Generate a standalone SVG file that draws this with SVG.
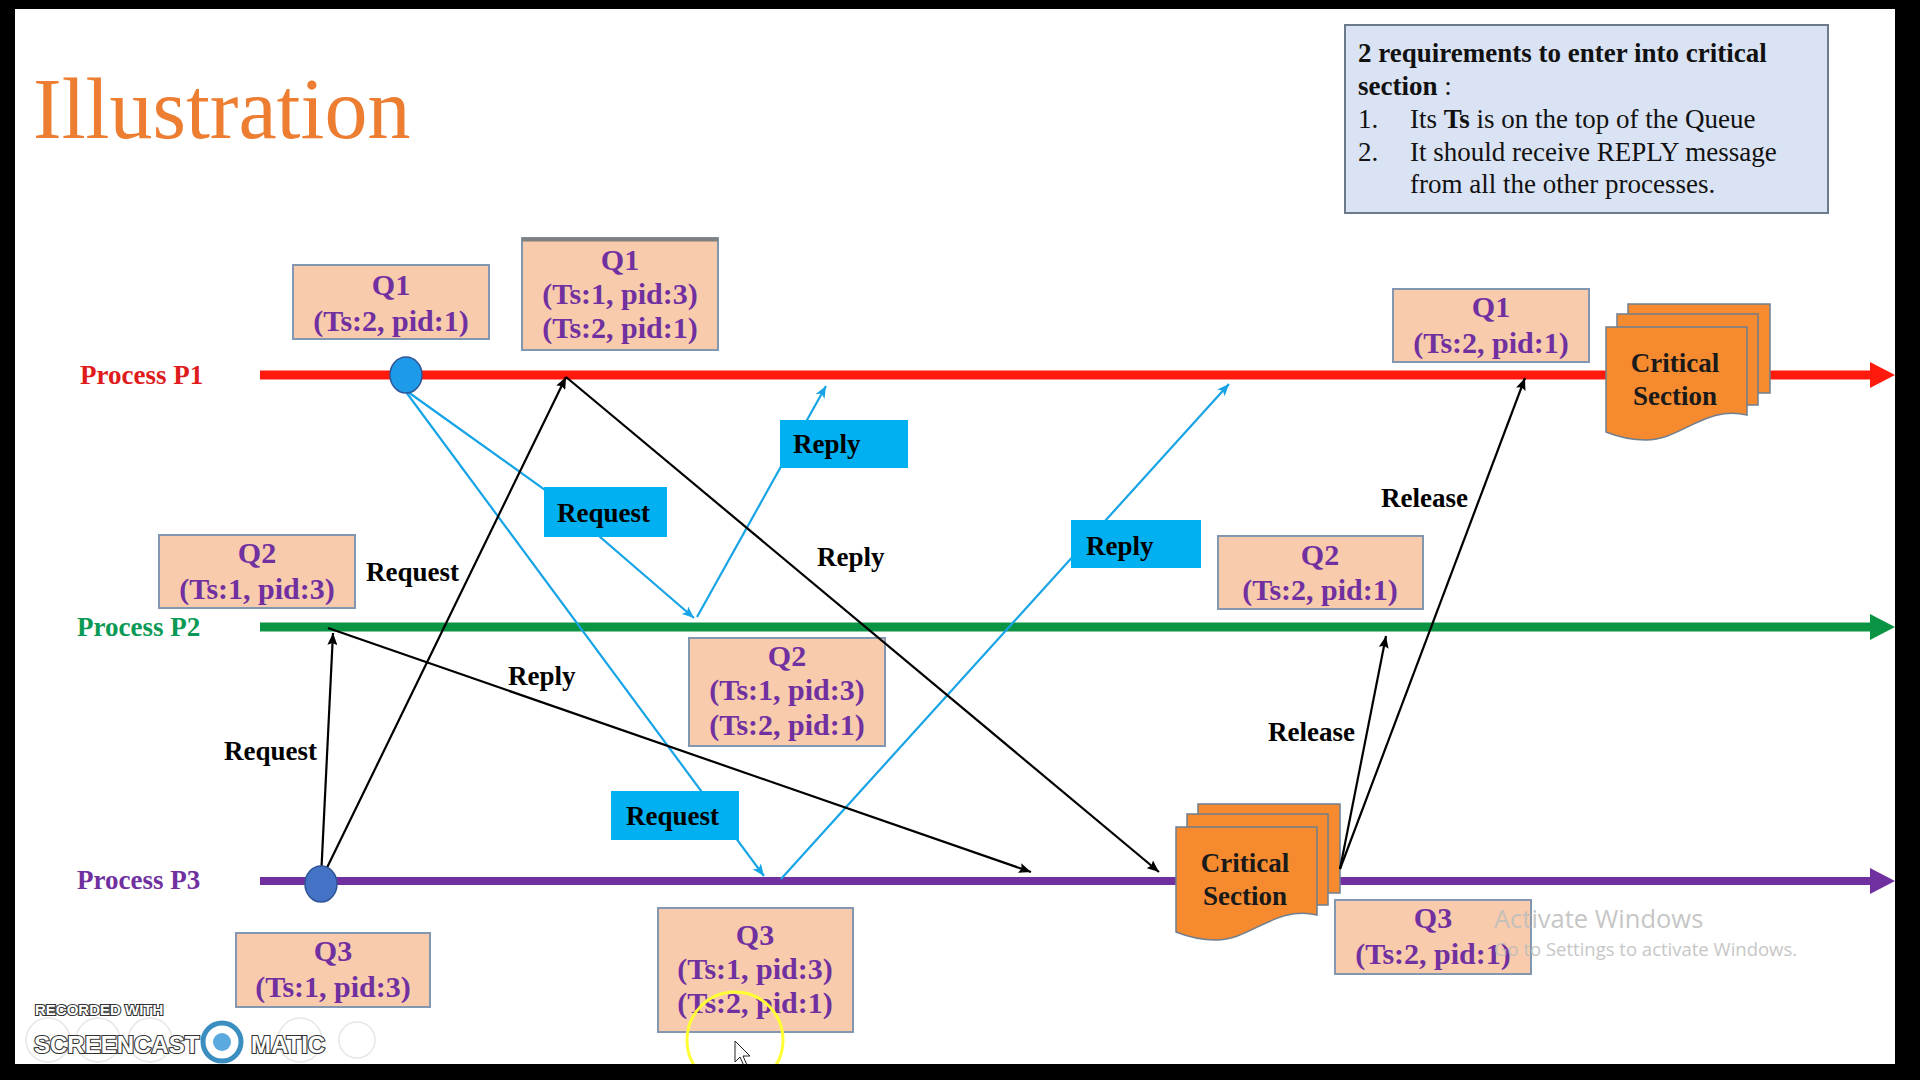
<svg xmlns="http://www.w3.org/2000/svg" width="1920" height="1080" viewBox="0 0 1920 1080">
<style>
.q{fill:#F8CBAD;stroke:#8497B0;stroke-width:2}
.qt{font-family:"Liberation Serif","Times New Roman",serif;font-weight:bold;font-size:30px;fill:#7030A0;text-anchor:middle}
.bx{fill:#00B0F0}
.lbl{font-family:"Liberation Serif","Times New Roman",serif;font-weight:bold;font-size:27px;fill:#000}
.blk{stroke:#000;stroke-width:2.2;fill:none;marker-end:url(#ab)}
.blu{stroke:#16A4E6;stroke-width:2.2;fill:none;marker-end:url(#au)}
.pg{fill:#F58A2F;stroke:#6F7F90;stroke-width:1.5}
.cs{font-family:"Liberation Serif","Times New Roman",serif;font-weight:bold;font-size:27px;fill:#1a1a1a;text-anchor:middle}
.req{font-family:"Liberation Serif","Times New Roman",serif;font-size:27px;fill:#111}
.pl{font-family:"Liberation Serif","Times New Roman",serif;font-weight:bold;font-size:27px}
.wm{font-family:"Open Sans","Noto Sans",sans-serif;fill:#BDBDBD;opacity:0.85}
.sc{font-family:"Liberation Sans",Arial,sans-serif;font-weight:bold;fill:#fff;stroke:#333;stroke-width:2.2;paint-order:stroke}
</style>
<defs>
<marker id="ab" viewBox="0 0 12 10" refX="12" refY="5" markerWidth="12" markerHeight="10" markerUnits="userSpaceOnUse" orient="auto"><path d="M0,0 L12,5 L0,10 L2,5 z" fill="#000"/></marker>
<marker id="au" viewBox="0 0 12 10" refX="12" refY="5" markerWidth="12" markerHeight="10" markerUnits="userSpaceOnUse" orient="auto"><path d="M0,0 L12,5 L0,10 L3,5 z" fill="#16A4E6"/></marker>
<symbol id="mdoc" overflow="visible">
<rect class="pg" x="22" y="-23" width="142" height="89"/>
<rect class="pg" x="11" y="-13" width="141" height="91"/>
<path class="pg" d="M0,0 H141 V88 C100,78 75,113 40,113 C22,113 10,109 0,105 Z"/>
</symbol>
</defs>
<rect x="0" y="0" width="1920" height="1080" fill="#000"/>
<rect x="15" y="9" width="1880" height="1055" fill="#fff"/>

<text x="33" y="138" font-family="Liberation Serif,'Times New Roman',serif" font-size="86" fill="#ED7D31">Illustration</text>

<g id="requirements">
<rect x="1345" y="25" width="483" height="188" fill="#DAE3F3" stroke="#6B7B8C" stroke-width="2"/>
<text class="req" x="1358" y="62" font-weight="bold">2 requirements to enter into critical</text>
<text class="req" x="1358" y="95"><tspan font-weight="bold">section</tspan> :</text>
<text class="req" x="1358" y="128">1.</text>
<text class="req" x="1410" y="128">Its <tspan font-weight="bold">Ts</tspan> is on the top of the Queue</text>
<text class="req" x="1358" y="161">2.</text>
<text class="req" x="1410" y="161">It should receive REPLY message</text>
<text class="req" x="1410" y="193">from all the other processes.</text>
</g>

<g id="lanes">
<g id="lane-p1">
<text class="pl" x="80" y="384" fill="#E01B1B">Process P1</text>
<line x1="260" y1="375" x2="1872" y2="375" stroke="#FF1A0D" stroke-width="9"/>
<polygon points="1870,362 1895,375 1870,388" fill="#FF1A0D"/>
</g>
<g id="lane-p2">
<text class="pl" x="77" y="636" fill="#0B9A55">Process P2</text>
<line x1="260" y1="627" x2="1872" y2="627" stroke="#0B9444" stroke-width="9"/>
<polygon points="1870,614 1895,627 1870,640" fill="#0B9444"/>
</g>
<g id="lane-p3">
<text class="pl" x="77" y="889" fill="#7030A0">Process P3</text>
<line x1="260" y1="881" x2="1872" y2="881" stroke="#7030A0" stroke-width="8"/>
<polygon points="1870,868 1895,881 1870,894" fill="#7030A0"/>
</g>
</g>

<g id="q1-a"><rect class="q" x="293" y="265" width="196" height="74"/><text class="qt" x="391" y="295">Q1</text><text class="qt" x="391" y="331">(Ts:2, pid:1)</text></g>
<g id="q1-b"><rect class="q" x="522" y="238" width="196" height="112"/><line x1="522" y1="239.5" x2="718" y2="239.5" stroke="#7F7F7F" stroke-width="4"/><text class="qt" x="620" y="270">Q1</text><text class="qt" x="620" y="304">(Ts:1, pid:3)</text><text class="qt" x="620" y="338">(Ts:2, pid:1)</text></g>
<g id="q1-c"><rect class="q" x="1393" y="289" width="196" height="73"/><text class="qt" x="1491" y="317">Q1</text><text class="qt" x="1491" y="353">(Ts:2, pid:1)</text></g>
<g id="q2-a"><rect class="q" x="159" y="535" width="196" height="73"/><text class="qt" x="257" y="563">Q2</text><text class="qt" x="257" y="599">(Ts:1, pid:3)</text></g>
<g id="q2-b"><rect class="q" x="689" y="638" width="196" height="108"/><text class="qt" x="787" y="666">Q2</text><text class="qt" x="787" y="700">(Ts:1, pid:3)</text><text class="qt" x="787" y="735">(Ts:2, pid:1)</text></g>
<g id="q2-c"><rect class="q" x="1218" y="536" width="205" height="73"/><text class="qt" x="1320" y="565">Q2</text><text class="qt" x="1320" y="600">(Ts:2, pid:1)</text></g>
<g id="q3-a"><rect class="q" x="236" y="933" width="194" height="74"/><text class="qt" x="333" y="961">Q3</text><text class="qt" x="333" y="997">(Ts:1, pid:3)</text></g>
<g id="q3-b"><rect class="q" x="658" y="908" width="195" height="124"/><text class="qt" x="755" y="945">Q3</text><text class="qt" x="755" y="979">(Ts:1, pid:3)</text><text class="qt" x="755" y="1013">(Ts:2, pid:1)</text></g>
<g id="q3-c"><rect class="q" x="1335" y="900" width="196" height="74"/><text class="qt" x="1433" y="928">Q3</text><text class="qt" x="1433" y="964">(Ts:2, pid:1)</text></g>

<g id="cs-p3"><use href="#mdoc" x="1176" y="827"/><text class="cs" x="1245" y="872">Critical</text><text class="cs" x="1245" y="905">Section</text></g>
<g id="cs-p1"><use href="#mdoc" x="1606" y="327"/><text class="cs" x="1675" y="372">Critical</text><text class="cs" x="1675" y="405">Section</text></g>

<g id="connectors">
<polyline class="blu" points="408,392 548,492 694,618"/>
<line class="blu" x1="697" y1="617" x2="826" y2="386"/>
<line class="blu" x1="406" y1="392" x2="764" y2="876"/>
<line class="blu" x1="781" y1="879" x2="1229" y2="384"/>
<line class="blk" x1="321" y1="880" x2="566" y2="377"/>
<line class="blk" x1="321" y1="878" x2="333" y2="633"/>
<line class="blk" x1="328" y1="628" x2="1031" y2="872"/>
<line class="blk" x1="566" y1="377" x2="1159" y2="872"/>
<line class="blk" x1="1340" y1="869" x2="1386" y2="636"/>
<line class="blk" x1="1340" y1="869" x2="1525" y2="378"/>
<text class="lbl" x="366" y="581">Request</text>
<text class="lbl" x="224" y="760">Request</text>
<text class="lbl" x="508" y="685">Reply</text>
<text class="lbl" x="817" y="566">Reply</text>
<text class="lbl" x="1381" y="507">Release</text>
<text class="lbl" x="1268" y="741">Release</text>
</g>

<g id="msg-request-1"><rect class="bx" x="544" y="487" width="123" height="50"/><text class="lbl" x="557" y="522">Request</text></g>
<g id="msg-reply-1"><rect class="bx" x="780" y="420" width="128" height="48"/><text class="lbl" x="793" y="453">Reply</text></g>
<g id="msg-request-2"><rect class="bx" x="611" y="791" width="128" height="49"/><text class="lbl" x="626" y="825">Request</text></g>
<g id="msg-reply-2"><rect class="bx" x="1071" y="520" width="130" height="48"/><text class="lbl" x="1086" y="555">Reply</text></g>

<g id="event-p1"><ellipse cx="406" cy="375" rx="16" ry="18" fill="#1E9BE8" stroke="#2F5597" stroke-width="1.5"/></g>
<g id="event-p3"><ellipse cx="321" cy="884" rx="16" ry="18" fill="#4472C4" stroke="#2F5597" stroke-width="1.5"/></g>

<text class="wm" x="1494" y="928" font-size="25.5">Activate Windows</text>
<text class="wm" x="1494" y="956" font-size="18.5">Go to Settings to activate Windows.</text>

<g opacity="0.5" fill="none" stroke="#cfcfcf" stroke-width="1.5">
<circle cx="48" cy="1040" r="22"/><circle cx="98" cy="1040" r="22"/><circle cx="150" cy="1040" r="22"/><circle cx="300" cy="1040" r="22"/><circle cx="357" cy="1040" r="18"/>
</g>
<text class="sc" x="35" y="1015" font-size="15">RECORDED WITH</text>
<text class="sc" x="34" y="1053" font-size="24">SCREENCAST</text>
<circle cx="222" cy="1042" r="19" fill="#fff" stroke="#3A8FC0" stroke-width="5"/>
<circle cx="222" cy="1042" r="9" fill="#5AAAE0"/>
<text class="sc" x="251" y="1053" font-size="24">MATIC</text>

<circle cx="735" cy="1040" r="48" fill="none" stroke="#FFFF33" stroke-width="3"/>
<polygon points="735,1041 735,1062 740,1057 744,1066 747,1065 743,1056 750,1056" fill="#fff" stroke="#222" stroke-width="1"/>
<rect x="0" y="1064" width="1920" height="16" fill="#000"/>
</svg>
